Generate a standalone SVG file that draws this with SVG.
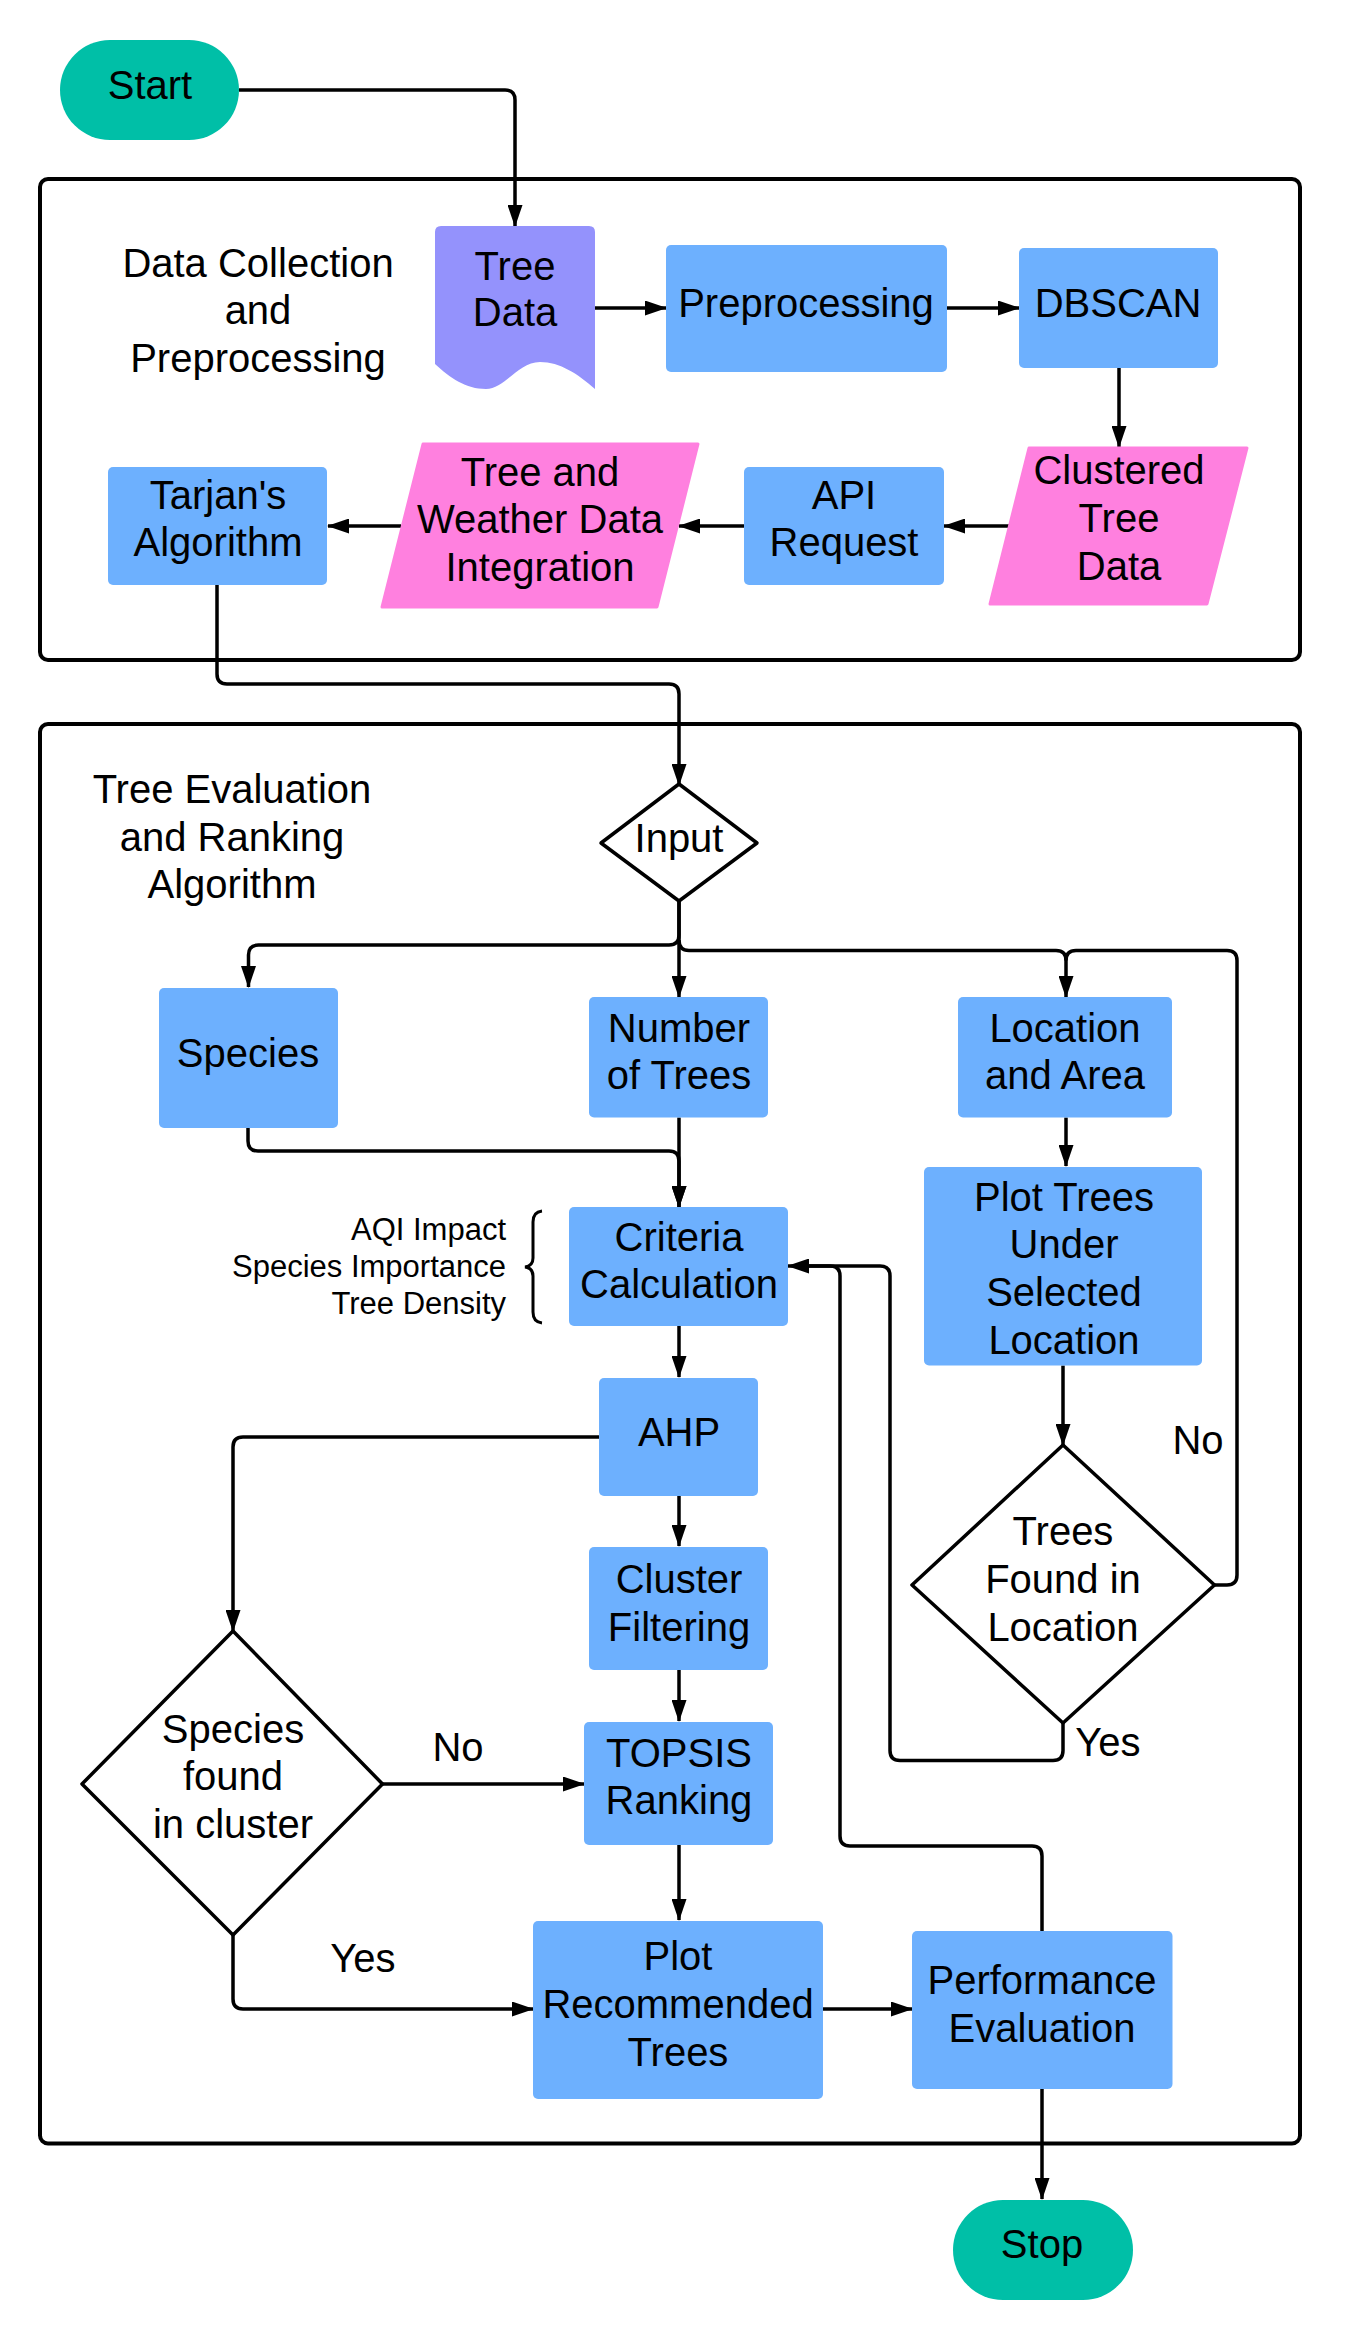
<svg xmlns="http://www.w3.org/2000/svg" width="1359" height="2340" viewBox="0 0 1359 2340">
<defs>
<style>
.frame{fill:none;stroke:#000;stroke-width:4}
.conn{fill:none;stroke:#000;stroke-width:3.5;stroke-linejoin:round}
.arr{marker-end:url(#ah)}
.box{fill:#6DB0FE}
.term{fill:#00BFA7}
.para{fill:#FF80DF;stroke:#FF80DF;stroke-width:3;stroke-linejoin:round}
.doc{fill:#9492FC}
.dia{fill:#fff;stroke:#000;stroke-width:3.5;stroke-linejoin:round}
text{font-family:"Liberation Sans",Arial,sans-serif;font-size:40px;fill:#000;text-anchor:middle}
.sm{font-size:31px;text-anchor:end}
</style>
<marker id="ah" viewBox="0 0 22 15" refX="21" refY="7.5" markerWidth="22" markerHeight="15" markerUnits="userSpaceOnUse" orient="auto">
<path d="M0,0 L22,7.5 L0,15 Z" fill="#000"/>
</marker>
</defs>
<rect width="1359" height="2340" fill="#fff"/>

<g id="containers">
<rect class="frame" x="40" y="179" width="1260" height="481" rx="8"/>
<rect class="frame" x="40" y="724" width="1260" height="1419.5" rx="8"/>
<text x="258" y="277">Data Collection</text>
<text x="258" y="324">and</text>
<text x="258" y="372">Preprocessing</text>
<text x="232" y="803">Tree Evaluation</text>
<text x="232" y="851">and Ranking</text>
<text x="232" y="898">Algorithm</text>
</g>

<g id="connectors">
<path class="conn arr" d="M239,90 H505 Q515,90 515,100 V226"/>
<path class="conn arr" d="M595,308 H666"/>
<path class="conn arr" d="M947,308 H1019"/>
<path class="conn arr" d="M1119,368 V447"/>
<path class="conn arr" d="M1009,526 H944"/>
<path class="conn arr" d="M744,526 H679"/>
<path class="conn arr" d="M401,526 H328"/>
<path class="conn arr" d="M217,585 V674 Q217,684 227,684 H669 Q679,684 679,694 V785"/>
<path class="conn arr" d="M679,901 V935 Q679,945 669,945 H258.5 Q248.5,945 248.5,955 V987"/>
<path class="conn arr" d="M679,901 V997"/>
<path class="conn arr" d="M679,940 Q679,950.5 689,950.5 H1056 Q1066,950.5 1066,960.5 V997"/>
<path class="conn" d="M1214.5,1585 H1227 Q1237,1585 1237,1575 V960.5 Q1237,950.5 1227,950.5 H1076 Q1066,950.5 1066,960.5"/>
<path class="conn arr" d="M248,1128 V1141 Q248,1151 258,1151 H669 Q679,1151 679,1161 V1207"/>
<path class="conn arr" d="M679,1117.5 V1207"/>
<path class="conn arr" d="M679,1326 V1377"/>
<path class="conn arr" d="M599,1437 H243 Q233,1437 233,1447 V1631"/>
<path class="conn arr" d="M679,1496 V1546"/>
<path class="conn arr" d="M679,1670 V1721"/>
<path class="conn arr" d="M679,1845 V1920"/>
<path class="conn arr" d="M382.5,1784 H584"/>
<path class="conn arr" d="M233,1935 V1999 Q233,2009 243,2009 H533"/>
<path class="conn arr" d="M823,2009 H912"/>
<path class="conn arr" d="M1042,2089 V2199"/>
<path class="conn arr" d="M1066,1117.5 V1166"/>
<path class="conn arr" d="M1063,1365.5 V1445"/>
<path class="conn arr" d="M1063,1723 V1750.5 Q1063,1760.5 1053,1760.5 H900 Q890,1760.5 890,1750.5 V1276 Q890,1266 880,1266 H788"/>
<path class="conn" d="M1042,1931 V1856 Q1042,1846 1032,1846 H850 Q840,1846 840,1836 V1276 Q840,1266 830,1266 H800"/>
<path d="M542,1211 Q533,1212 533,1222 V1258 Q533,1266 525,1267 Q533,1268 533,1276 V1312 Q533,1322 542,1323" fill="none" stroke="#000" stroke-width="3"/>
<text x="458" y="1761">No</text>
<text x="363" y="1972">Yes</text>
<text x="1198" y="1454">No</text>
<text x="1108" y="1756">Yes</text>
</g>

<g id="start">
<rect class="term" x="60" y="40" width="179" height="100" rx="50"/>
<text x="150" y="99">Start</text>
</g>
<g id="tree-data">
<path class="doc" d="M435,232 Q435,226 441,226 H589 Q595,226 595,232 V389 C578,374 560,362 540,362 C518,362 505,389 486,389 C466,389 450,378 435,364 Z"/>
<text x="515" y="280">Tree</text>
<text x="515" y="326">Data</text>
</g>
<g id="preprocessing">
<rect class="box" x="666" y="245" width="281" height="127" rx="5"/>
<text x="806" y="317">Preprocessing</text>
</g>
<g id="dbscan">
<rect class="box" x="1019" y="248" width="199" height="120" rx="5"/>
<text x="1118" y="317">DBSCAN</text>
</g>
<g id="clustered-tree-data">
<path class="para" d="M1029,448 H1247 L1207,604 H990 Z"/>
<text x="1119" y="484">Clustered</text>
<text x="1119" y="532">Tree</text>
<text x="1119" y="580">Data</text>
</g>
<g id="api-request">
<rect class="box" x="744" y="467" width="200" height="118" rx="5"/>
<text x="844" y="509">API</text>
<text x="844" y="556">Request</text>
</g>
<g id="tree-weather-integration">
<path class="para" d="M423,444 H698 L657,607 H382 Z"/>
<text x="540" y="486">Tree and</text>
<text x="540" y="533">Weather Data</text>
<text x="540" y="581">Integration</text>
</g>
<g id="tarjan">
<rect class="box" x="108" y="467" width="219" height="118" rx="5"/>
<text x="218" y="509">Tarjan's</text>
<text x="218" y="556">Algorithm</text>
</g>
<g id="input">
<path class="dia" d="M679,784 L757,843 L679,901 L601,843 Z"/>
<text x="679" y="852">Input</text>
</g>
<g id="species">
<rect class="box" x="159" y="988" width="179" height="140" rx="5"/>
<text x="248" y="1067">Species</text>
</g>
<g id="number-of-trees">
<rect class="box" x="589" y="997" width="179" height="120.5" rx="5"/>
<text x="679" y="1042">Number</text>
<text x="679" y="1089">of Trees</text>
</g>
<g id="location-area">
<rect class="box" x="958" y="997" width="214" height="120.5" rx="5"/>
<text x="1065" y="1042">Location</text>
<text x="1065" y="1089">and Area</text>
</g>
<g id="criteria">
<rect class="box" x="569" y="1207" width="219" height="119" rx="5"/>
<text x="679" y="1251">Criteria</text>
<text x="679" y="1298">Calculation</text>
<text class="sm" x="506" y="1240">AQI Impact</text>
<text class="sm" x="506" y="1277">Species Importance</text>
<text class="sm" x="506" y="1314">Tree Density</text>
</g>
<g id="plot-trees-location">
<rect class="box" x="924" y="1167" width="278" height="198.5" rx="5"/>
<text x="1064" y="1211">Plot Trees</text>
<text x="1064" y="1258">Under</text>
<text x="1064" y="1306">Selected</text>
<text x="1064" y="1354">Location</text>
</g>
<g id="ahp">
<rect class="box" x="599" y="1378" width="159" height="118" rx="5"/>
<text x="679" y="1446">AHP</text>
</g>
<g id="cluster-filtering">
<rect class="box" x="589" y="1547" width="179" height="123" rx="5"/>
<text x="679" y="1593">Cluster</text>
<text x="679" y="1641">Filtering</text>
</g>
<g id="topsis">
<rect class="box" x="584" y="1722" width="189" height="123" rx="5"/>
<text x="679" y="1767">TOPSIS</text>
<text x="679" y="1814">Ranking</text>
</g>
<g id="species-found">
<path class="dia" d="M233,1631 L382.5,1784 L233,1935 L82,1784 Z"/>
<text x="233" y="1743">Species</text>
<text x="233" y="1790">found</text>
<text x="233" y="1838">in cluster</text>
</g>
<g id="trees-found">
<path class="dia" d="M1063,1445 L1214.5,1585 L1063,1723 L912,1585 Z"/>
<text x="1063" y="1545">Trees</text>
<text x="1063" y="1593">Found in</text>
<text x="1063" y="1641">Location</text>
</g>
<g id="plot-recommended">
<rect class="box" x="533" y="1921" width="290" height="178" rx="5"/>
<text x="678" y="1970">Plot</text>
<text x="678" y="2018">Recommended</text>
<text x="678" y="2066">Trees</text>
</g>
<g id="performance">
<rect class="box" x="912" y="1931" width="260.5" height="158" rx="5"/>
<text x="1042" y="1994">Performance</text>
<text x="1042" y="2042">Evaluation</text>
</g>
<g id="stop">
<rect class="term" x="953" y="2200" width="180" height="100" rx="50"/>
<text x="1042" y="2258">Stop</text>
</g>
</svg>
